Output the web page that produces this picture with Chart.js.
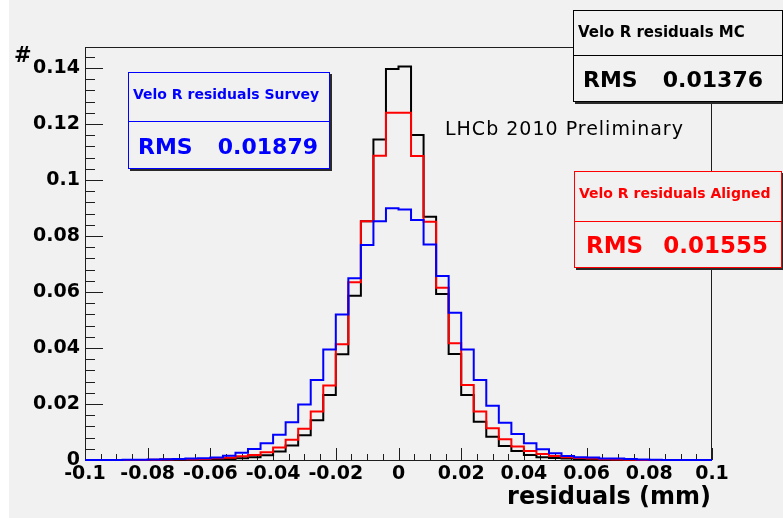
<!DOCTYPE html>
<html>
<head>
<meta charset="utf-8">
<title>Velo R residuals</title>
<script src="https://cdn.jsdelivr.net/npm/chart.js@4.4.1/dist/chart.umd.min.js"></script>
<style>
  html, body { margin: 0; padding: 0; background: #fff; }
  canvas { display: block; }
</style>
</head>
<body>
<canvas id="residuals-chart" width="783" height="518"></canvas>
<script>
// histogram binning (mm)
const xMin = -0.1;
const xMax = 0.1;
const binWidth = 0.004;
const yMax = 0.1475;

// bin contents, 50 bins from -0.1 to 0.1
const mcValues = [
  0, 0, 0, 0, 0, 0, 0.0001, 0.0001, 0.0002, 0.0002,
  0.0003, 0.0004, 0.0006, 0.0010, 0.0017, 0.0030, 0.0052, 0.0088, 0.0142, 0.0232,
  0.0378, 0.0587, 0.0853, 0.1145, 0.1396, 0.1405, 0.1161, 0.0869, 0.0593, 0.0379,
  0.0232, 0.0137, 0.0083, 0.0050, 0.0032, 0.0018, 0.0010, 0.0007, 0.0005, 0.0003,
  0.0002, 0.0001, 0, 0, 0, 0, 0, 0, 0, 0
];
const alignedValues = [
  0, 0, 0, 0, 0, 0.0001, 0.0002, 0.0003, 0.0003, 0.0004,
  0.0006, 0.0008, 0.0013, 0.0018, 0.0028, 0.0045, 0.0072, 0.0112, 0.0173, 0.0266,
  0.0413, 0.0635, 0.0853, 0.1087, 0.1240, 0.1240, 0.1086, 0.0851, 0.0615, 0.0417,
  0.0268, 0.0173, 0.0113, 0.0074, 0.0048, 0.0032, 0.0021, 0.0014, 0.0010, 0.0007,
  0.0005, 0.0003, 0.0002, 0.0001, 0, 0, 0, 0, 0, 0
];
const surveyValues = [
  0, 0, 0, 0.0001, 0.0001, 0.0002, 0.0003, 0.0004, 0.0005, 0.0006,
  0.0009, 0.0015, 0.0026, 0.0039, 0.0060, 0.0090, 0.0135, 0.0198, 0.0286, 0.0395,
  0.0520, 0.0649, 0.0768, 0.0853, 0.0899, 0.0895, 0.0857, 0.0770, 0.0657, 0.0526,
  0.0395, 0.0286, 0.0194, 0.0133, 0.0093, 0.0060, 0.0038, 0.0024, 0.0014, 0.0010,
  0.0009, 0.0005, 0.0005, 0.0004, 0.0002, 0.0001, 0, 0, 0, 0
];

const seriesTitles = ['Velo R residuals MC', 'Velo R residuals Aligned', 'Velo R residuals Survey'];
const rmsValues = ['0.01376', '0.01555', '0.01879'];
const seriesColors = ['#000000', '#ff0000', '#0000ff'];

const FONT = 'DejaVu Sans';
const BG = '#f1f1f1';

// step outline: one point per bin low edge, plus the closing edge
const toSteps = (values) => {
  const pts = values.map((v, i) => ({ x: xMin + i * binWidth, y: v }));
  pts.push({ x: xMax, y: values[values.length - 1] });
  return pts;
};

const formatTick = (v) => Math.abs(v) < 1e-9 ? '0' : String(parseFloat(v.toFixed(3)));

// stat box placement
const statBoxes = [
  { i: 0, x: 573, y: 10, w: 210, h: 92, div: 55, titleX: 578, titleY: 33, titleSize: 15,
    rmsX: 583, valX: 763, rmsY: 87, rmsSize: 22 },
  { i: 1, x: 574, y: 171, w: 208, h: 97, div: 221, titleX: 579, titleY: 194, titleSize: 14,
    rmsX: 586, valX: 768, rmsY: 253, rmsSize: 23 },
  { i: 2, x: 128, y: 72, w: 202, h: 97, div: 121, titleX: 133, titleY: 95, titleSize: 14,
    rmsX: 138, valX: 318, rmsY: 154, rmsSize: 22 }
];

const canvasBackground = {
  id: 'canvasBackground',
  beforeDraw(chart) {
    const { ctx, width, height } = chart;
    ctx.save();
    ctx.fillStyle = BG;
    ctx.fillRect(9, 0, width - 9, height);
    ctx.restore();
  }
};

// frame and inward-pointing tick marks
const frameTicks = {
  id: 'frameTicks',
  beforeDatasetsDraw(chart) {
    const { ctx, chartArea: a, scales: { x, y } } = chart;
    ctx.save();
    ctx.strokeStyle = '#1e1e1e';
    ctx.lineWidth = 1;
    ctx.strokeRect(a.left + 0.5, a.top + 0.5, a.right - a.left - 1, a.bottom - a.top);

    ctx.beginPath();
    for (let i = 0; i <= 40; i++) {
      const px = Math.round(x.getPixelForValue(xMin + i * 0.005)) + 0.5;
      const len = i % 4 === 0 ? 12 : 6;
      ctx.moveTo(px, a.bottom);
      ctx.lineTo(px, a.bottom - len);
    }
    for (let i = 0; i * 0.004 <= yMax; i++) {
      const py = Math.round(y.getPixelForValue(i * 0.004)) + 0.5;
      const len = i % 5 === 0 ? 18 : 10;
      ctx.moveTo(a.left, py);
      ctx.lineTo(a.left + len, py);
    }
    ctx.stroke();
    ctx.restore();
  }
};

const annotations = {
  id: 'annotations',
  afterDraw(chart) {
    const { ctx } = chart;
    ctx.save();

    statBoxes.forEach(b => {
      const color = seriesColors[b.i];
      ctx.fillStyle = '#2a2a2a';
      ctx.fillRect(b.x + 2, b.y + 2, b.w, b.h);
      ctx.fillStyle = BG;
      ctx.fillRect(b.x, b.y, b.w, b.h);
      ctx.strokeStyle = color;
      ctx.lineWidth = 1;
      ctx.strokeRect(b.x + 0.5, b.y + 0.5, b.w - 1, b.h - 1);
      ctx.beginPath();
      ctx.moveTo(b.x, b.div + 0.5);
      ctx.lineTo(b.x + b.w, b.div + 0.5);
      ctx.stroke();

      ctx.fillStyle = color;
      ctx.font = `bold ${b.titleSize}px "${FONT}"`;
      ctx.textAlign = 'left';
      ctx.textBaseline = 'middle';
      ctx.fillText(seriesTitles[b.i], b.titleX, b.titleY);

      ctx.font = `bold ${b.rmsSize}px "${FONT}"`;
      ctx.textBaseline = 'alphabetic';
      ctx.fillText('RMS', b.rmsX, b.rmsY);
      ctx.textAlign = 'right';
      ctx.fillText(rmsValues[b.i], b.valX, b.rmsY);
    });

    ctx.fillStyle = '#000';
    ctx.textAlign = 'left';
    ctx.textBaseline = 'alphabetic';
    ctx.font = `19px "${FONT}"`;
    ctx.letterSpacing = '1px';
    ctx.fillText('LHCb 2010 Preliminary', 445, 135);
    ctx.letterSpacing = '0px';

    ctx.font = `bold 21px "${FONT}"`;
    ctx.textBaseline = 'middle';
    ctx.fillText('#', 14, 57);

    ctx.font = `bold 24px "${FONT}"`;
    ctx.textAlign = 'right';
    ctx.textBaseline = 'alphabetic';
    ctx.fillText('residuals (mm)', 711, 504);
    ctx.restore();
  }
};

const tickFont = { family: FONT, weight: 'bold', size: 19 };

const makeDataset = (i, values, order) => ({
  label: seriesTitles[i],
  data: toSteps(values),
  borderColor: seriesColors[i],
  backgroundColor: seriesColors[i],
  borderWidth: 2,
  // hold each bin's value across its width, then step at the next edge
  stepped: 'before',
  pointRadius: 0,
  fill: false,
  clip: false,
  order: order
});

new Chart(document.getElementById('residuals-chart'), {
  type: 'line',
  data: {
    datasets: [
      makeDataset(0, mcValues, 3),
      makeDataset(1, alignedValues, 2),
      makeDataset(2, surveyValues, 1)
    ]
  },
  options: {
    responsive: false,
    animation: false,
    layout: { padding: { top: 47, right: 71, left: 0, bottom: 0 } },
    plugins: {
      legend: { display: false },
      tooltip: { enabled: false }
    },
    scales: {
      x: {
        type: 'linear',
        min: xMin,
        max: xMax,
        afterFit: (s) => { s.height = 58; },
        grid: { display: false, drawTicks: false },
        border: { display: false },
        ticks: {
          stepSize: 0.02,
          includeBounds: false,
          autoSkip: false,
          maxRotation: 0,
          padding: 3,
          color: '#000',
          font: tickFont,
          callback: formatTick
        }
      },
      y: {
        type: 'linear',
        min: 0,
        max: yMax,
        afterFit: (s) => { s.width = 85; },
        grid: { display: false, drawTicks: false },
        border: { display: false },
        ticks: {
          stepSize: 0.02,
          includeBounds: false,
          autoSkip: false,
          padding: 5,
          color: '#000',
          font: tickFont,
          callback: formatTick
        }
      }
    }
  },
  plugins: [canvasBackground, frameTicks, annotations]
});
</script>
</body>
</html>
